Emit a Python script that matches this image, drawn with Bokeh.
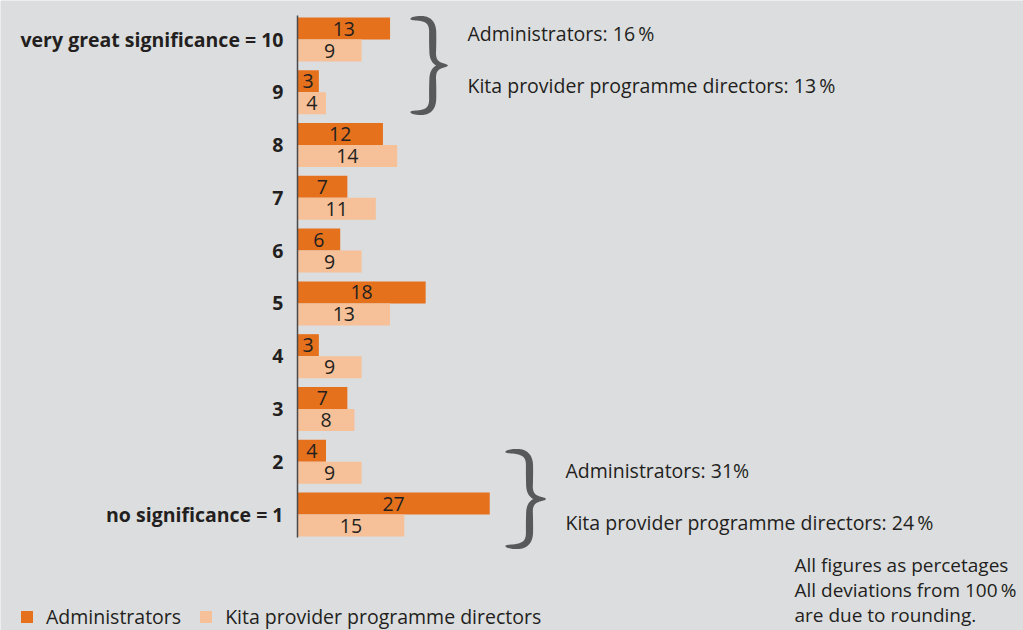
import numpy as np
from bokeh.plotting import figure
from bokeh.models import Range1d, ColumnDataSource, Legend, LegendItem
from bokeh.embed import file_html
from bokeh.resources import INLINE
from bokeh.core.properties import value

# ---------------- data ----------------
categories = [10, 9, 8, 7, 6, 5, 4, 3, 2, 1]
cat_labels = ["very great significance = 10", "9", "8", "7", "6", "5", "4", "3", "2",
              "no significance = 1"]
administrators = [13, 3, 12, 7, 6, 18, 3, 7, 4, 27]
directors = [9, 4, 14, 11, 9, 13, 9, 8, 9, 15]
series_names = ["Administrators", "Kita provider programme directors"]
top_group = ["Administrators: 16\u2009%", "Kita provider programme directors: 13\u2009%"]
bottom_group = ["Administrators: 31%", "Kita provider programme directors: 24\u2009%"]
footnote = ["All figures as percetages", "All deviations from 100\u2009%", "are due to rounding."]

# ---------------- layout (pixels) ----------------
W, H = 1023, 630
X0 = 297.0      # canvas px of value 0
KX = 7.12       # px per percentage point
Y10 = 39.0      # canvas px of category 10 centre
KY = 52.78      # px per category step
BAR_H = 22.0 / KY

DARK = "#e6711d"
LIGHT = "#f6c198"
BG = "#dcdddf"
TXT = "#231f20"
GREY = "#58595b"
FONT = "Open Sans"
FS = "19.5px"


def dx(px):
    return (px - X0) / KX


def dy(py):
    return 10 - (py - Y10) / KY


p = figure(width=W, height=H, output_backend="svg", toolbar_location=None,
           x_range=Range1d(dx(0), dx(W)), y_range=Range1d(dy(H), dy(0)),
           x_axis_location=None, y_axis_location=None, min_border=0)
p.background_fill_color = BG
p.border_fill_color = BG
p.outline_line_color = None
p.xgrid.visible = False
p.ygrid.visible = False

cats = np.array(categories, dtype=float)
src = ColumnDataSource(dict(
    y_a=cats + BAR_H / 2, y_d=cats - BAR_H / 2,
    a=administrators, d=directors,
    a_mid=np.array(administrators) / 2, d_mid=np.array(directors) / 2,
    a_txt=[str(v) for v in administrators], d_txt=[str(v) for v in directors],
    cat=cats, lab=cat_labels,
))

r_a = p.hbar(y="y_a", left=0, right="a", height=BAR_H, source=src,
             fill_color=DARK, line_color=None)
r_d = p.hbar(y="y_d", left=0, right="d", height=BAR_H, source=src,
             fill_color=LIGHT, line_color=None)

p.text(x="a_mid", y="y_a", text="a_txt", source=src, text_align="center",
       text_baseline="middle", text_font=value(FONT), text_font_size=FS, text_color=TXT)
p.text(x="d_mid", y="y_d", text="d_txt", source=src, text_align="center",
       text_baseline="middle", text_font=value(FONT), text_font_size=FS, text_color=TXT)

# axis line
p.segment(x0=[0], y0=[dy(15)], x1=[0], y1=[dy(537)], line_color="#4a4a4c", line_width=1.5)

# category labels
p.text(x=dx(X0 - 14), y="cat", text="lab", source=src, text_align="right",
       text_baseline="middle", text_font=value(FONT), text_font_style="bold",
       text_font_size="19.5px", text_color=TXT)


def cubic(p0, p1, p2, p3, n=40):
    t = np.linspace(0, 1, n)[:, None]
    return ((1 - t) ** 3) * p0 + 3 * ((1 - t) ** 2) * t * p1 + 3 * (1 - t) * t ** 2 * p2 + t ** 3 * p3


def brace(xl, xr, yt, yb):
    w = xr - xl
    h = yb - yt
    xv = xl + 0.6 * w
    P = lambda x, y: np.array([x, y], dtype=float)
    s1 = cubic(P(xl, yt + 1.5), P(xl + 0.45 * w, yt - 1), P(xv, yt + 0.04 * h), P(xv, yt + 0.16 * h))
    s2 = np.linspace(P(xv, yt + 0.16 * h), P(xv, yt + 0.36 * h), 20)
    s3 = cubic(P(xv, yt + 0.36 * h), P(xv, yt + 0.47 * h), P(xl + 0.75 * w, yt + 0.5 * h), P(xr, yt + 0.5 * h))
    top = np.vstack([s1, s2[1:], s3[1:]])
    bot = top[::-1].copy()
    bot[:, 1] = yt + yb - bot[:, 1]
    c = np.vstack([top, bot[1:]])
    seg = np.sqrt(((np.diff(c, axis=0)) ** 2).sum(axis=1))
    s = np.concatenate([[0], np.cumsum(seg)])
    s = s / s[-1]
    thick = 1.2 + 6.0 * np.abs(np.sin(2 * np.pi * s)) ** 0.5
    tang = np.gradient(c, axis=0)
    nrm = np.sqrt((tang ** 2).sum(axis=1))[:, None]
    tang = tang / np.where(nrm == 0, 1, nrm)
    n = np.stack([-tang[:, 1], tang[:, 0]], axis=1)
    outer = c + n * thick[:, None] / 2
    inner = c - n * thick[:, None] / 2
    poly = np.vstack([outer, inner[::-1]])
    return [dx(v) for v in poly[:, 0]], [dy(v) for v in poly[:, 1]]


bx, by = brace(410, 447, 17, 113)
p.patch(bx, by, fill_color=GREY, line_color=None)
bx, by = brace(505, 545, 450, 547)
p.patch(bx, by, fill_color=GREY, line_color=None)

p.text(x=[dx(467)] * 2, y=[dy(33), dy(85)], text=top_group, text_align="left",
       text_baseline="middle", text_font=value(FONT), text_font_size=FS, text_color=TXT)
p.text(x=[dx(565)] * 2, y=[dy(470), dy(522)], text=bottom_group, text_align="left",
       text_baseline="middle", text_font=value(FONT), text_font_size=FS, text_color=TXT)

p.text(x=[dx(794)] * 3, y=[dy(564), dy(589), dy(614)], text=footnote, text_align="left",
       text_baseline="middle", text_font=value(FONT), text_font_size="19px", text_color=TXT)

legend = Legend(items=[LegendItem(label=series_names[0], renderers=[r_a]),
                       LegendItem(label=series_names[1], renderers=[r_d])],
                orientation="horizontal", location=(19, 0))
legend.padding = 0
legend.margin = 0
legend.spacing = 17
legend.label_standoff = 12
legend.glyph_width = 15
legend.glyph_height = 15
legend.label_text_font = FONT
legend.label_text_font_size = FS
legend.label_text_color = TXT
legend.background_fill_alpha = 0
legend.border_line_color = None
p.add_layout(legend)

open("out.html", "w").write(file_html(p, INLINE))
